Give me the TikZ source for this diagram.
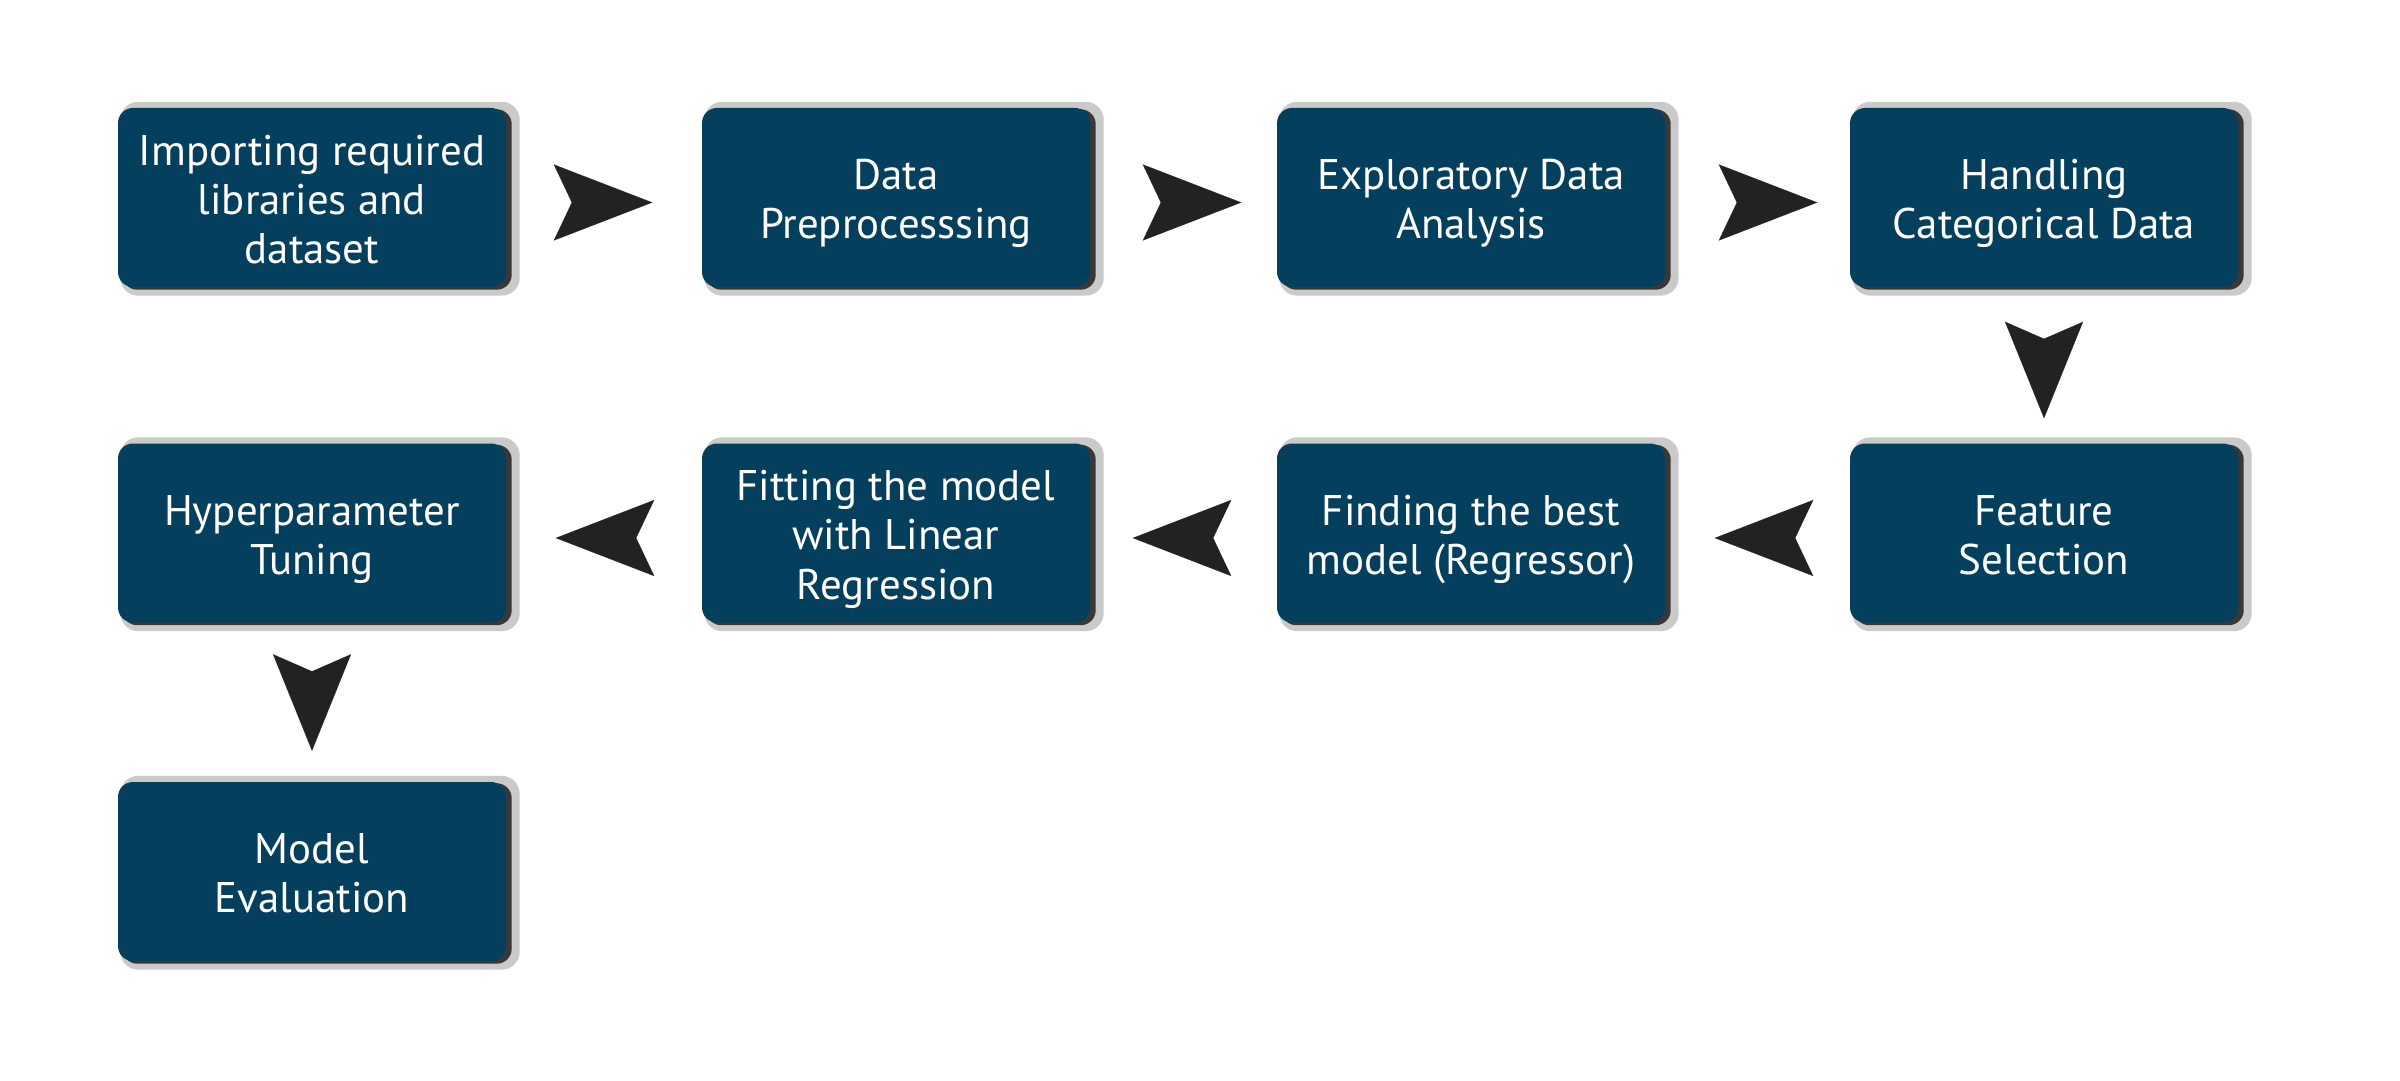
\documentclass[tikz,border=0pt]{standalone}
\usepackage{fontspec}
\setmainfont{PT Sans}
\usetikzlibrary{arrows.meta,backgrounds,calc}
\definecolor{boxblue}{HTML}{053F5E}
\definecolor{arrowcol}{HTML}{222222}
\definecolor{shadowdark}{HTML}{383838}
\definecolor{shadowhalo}{HTML}{CACACA}
\newcommand{\boxlines}[1]{\raisebox{-0.07cm}[\height][\depth]{\begin{tabular}{@{}c@{}}#1\end{tabular}}}
\begin{document}
\begin{tikzpicture}[
  stepbox/.style={rectangle, rounded corners=0.15cm, fill=boxblue, text=white,
    minimum width=3.88cm, minimum height=1.79cm, inner sep=0pt,
    font=\fontsize{12.2}{14}\selectfont},
  hconn/.style={draw=arrowcol, line width=0.01pt,
    -{Stealth[length=0.985cm,width=0.76cm,inset=0.18cm]},
    shorten <=0.69cm, shorten >=0.49cm},
  vconn/.style={draw=arrowcol, line width=0.01pt,
    -{Stealth[length=0.965cm,width=0.78cm,inset=0.17cm]},
    shorten <=0.5cm, shorten >=0.305cm},
  halo/.style={fill=shadowhalo, rounded corners=0.18cm},
  darkshade/.style={fill=shadowdark, rounded corners=0.15cm}
]
\useasboundingbox (0,0) rectangle (24,-10.8);

\node[stepbox] (imp)  at (3.12,-1.975)  {\boxlines{Importing required\\libraries and\\dataset}};
\node[stepbox] (pre)  at (8.96,-1.975)  {\boxlines{Data\\Preprocesssing}};
\node[stepbox] (eda)  at (14.71,-1.975) {\boxlines{Exploratory Data\\Analysis}};
\node[stepbox] (cat)  at (20.44,-1.975) {\boxlines{Handling\\Categorical Data}};
\node[stepbox] (fs)   at (20.44,-5.33)  {\boxlines{Feature\\Selection}};
\node[stepbox] (best) at (14.71,-5.33)  {\boxlines{Finding the best\\model (Regressor)}};
\node[stepbox] (fit)  at (8.96,-5.33)   {\boxlines{Fitting the model\\with Linear\\Regression}};
\node[stepbox] (hyp)  at (3.12,-5.33)   {\boxlines{Hyperparameter\\Tuning}};
\node[stepbox] (eval) at (3.12,-8.715)  {\boxlines{Model\\Evaluation}};

\begin{scope}[on background layer]
\foreach \n in {imp,pre,eda,cat,fs,best,fit,hyp,eval} {
  \fill[halo] ($(\n.south west)+(0.03,-0.08)$) rectangle ($(\n.north east)+(0.13,0.055)$);
  \fill[darkshade] ($(\n.south west)+(0.05,-0.02)$) rectangle ($(\n.north east)+(0.05,-0.02)$);
}
\end{scope}

\draw[hconn] ([yshift=-0.05cm]imp.east) -- ([yshift=-0.05cm]pre.west);
\draw[hconn, shorten <=0.76cm, shorten >=0.35cm] ([yshift=-0.05cm]pre.east) -- ([yshift=-0.05cm]eda.west);
\draw[hconn, shorten <=0.76cm, shorten >=0.32cm] ([yshift=-0.05cm]eda.east) -- ([yshift=-0.05cm]cat.west);
\draw[vconn, shorten <=0.56cm, shorten >=0.245cm] (cat.south) -- (fs.north);
\draw[hconn] ([yshift=-0.05cm]fs.west) -- ([yshift=-0.05cm]best.east);
\draw[hconn, shorten >=0.42cm] ([yshift=-0.05cm]best.west) -- ([yshift=-0.05cm]fit.east);
\draw[hconn] ([yshift=-0.05cm]fit.west) -- ([yshift=-0.05cm]hyp.east);
\draw[vconn] (hyp.south) -- (eval.north);
\end{tikzpicture}
\end{document}
